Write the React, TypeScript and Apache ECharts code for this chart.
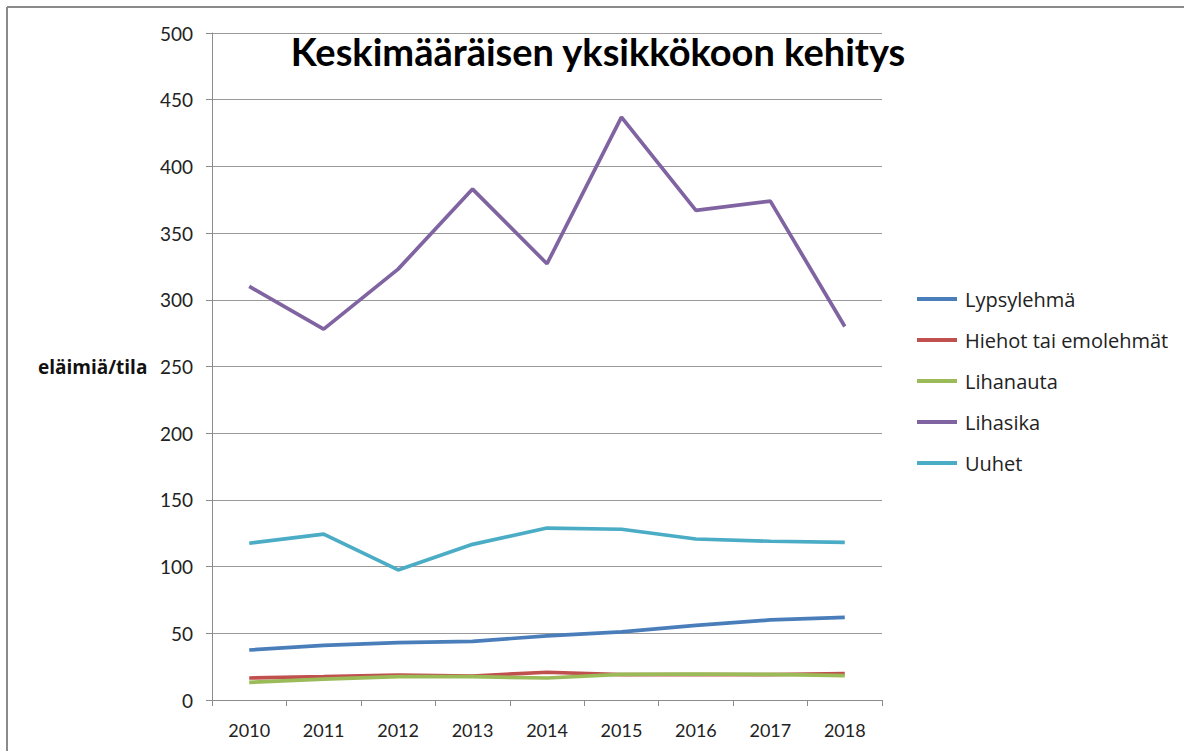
import React, { useEffect, useRef } from "react";
import * as echarts from "echarts";

const years = ["2010", "2011", "2012", "2013", "2014", "2015", "2016", "2017", "2018"];
const lypsylehma = [37.5, 41, 43, 44, 48, 51, 56, 60, 62];
const hiehot = [16.5, 17.5, 18.7, 18, 20.8, 19, 19, 19, 19.7];
const lihanauta = [13.2, 15.7, 17.5, 17.5, 16.5, 19.2, 19.5, 19.2, 18.2];
const lihasika = [310, 278, 323, 383, 327, 437, 367, 374, 280];
const uuhet = [117.5, 124.4, 97.5, 116.7, 128.9, 128, 120.7, 119, 118.2];

const seriesNames = ["Lypsylehmä", "Hiehot tai emolehmät", "Lihanauta", "Lihasika", "Uuhet"];
const seriesData = [lypsylehma, hiehot, lihanauta, lihasika, uuhet];
const colors = ["#4A7EBB", "#C0504D", "#9BBB59", "#8064A2", "#4BACC6"];

const FONT = "Lato, 'Open Sans', sans-serif";
const FONT2 = "'Open Sans', Lato, sans-serif";

export default function App() {
  const ref = useRef<HTMLDivElement>(null);
  useEffect(() => {
    if (!ref.current) return;
    const chart = echarts.init(ref.current, null, { renderer: "svg" });
    chart.setOption({
      animation: false,
      backgroundColor: "#ffffff",
      textStyle: { fontFamily: FONT },
      legend: {
        orient: "vertical",
        left: 917,
        top: 289,
        padding: 0,
        itemWidth: 40,
        itemHeight: 4,
        itemGap: 21,
        icon: "rect",
        textStyle: { fontSize: 20, color: "#222", fontFamily: FONT2, padding: [0, 0, 0, 3] },
        data: seriesNames,
      },
      grid: { left: 212, right: 302, top: 33, bottom: 51, containLabel: false },
      xAxis: {
        type: "category",
        data: years,
        boundaryGap: true,
        axisLine: { show: true, lineStyle: { color: "#8c8c8c", width: 1 } },
        axisTick: { show: true, length: 6, lineStyle: { color: "#8c8c8c" } },
        axisLabel: { fontSize: 18, color: "#222", margin: 21, fontFamily: FONT },
        splitLine: { show: false },
      },
      yAxis: {
        type: "value",
        min: 0,
        max: 500,
        interval: 50,
        axisLine: { show: true, lineStyle: { color: "#8c8c8c", width: 1 } },
        axisTick: { show: true, length: 6, lineStyle: { color: "#8c8c8c" } },
        axisLabel: { fontSize: 19, color: "#222", margin: 19, fontFamily: FONT },
        splitLine: { show: true, lineStyle: { color: "#9a9a9a", width: 1 } },
      },
      series: seriesNames.map((name, i) => ({
        name,
        type: "line",
        data: seriesData[i],
        showSymbol: false,
        symbol: "none",
        lineStyle: { width: 3.7, color: colors[i] },
        itemStyle: { color: colors[i] },
        z: i === 3 ? 3 : 2,
      })),
      graphic: [
        {
          type: "text",
          x: 598,
          y: 51,
          z: 10,
          style: {
            text: "Keskimääräisen yksikkökoon kehitys",
            textAlign: "center",
            textVerticalAlign: "middle",
            fontSize: 38,
            fontWeight: "bold",
            fill: "#000",
            fontFamily: FONT,
          },
        },
        {
          type: "text",
          x: 38,
          y: 367,
          style: {
            text: "eläimiä/tila",
            textAlign: "left",
            textVerticalAlign: "middle",
            fontSize: 19,
            fontWeight: "bold",
            fill: "#111",
            fontFamily: FONT2,
          },
        },
        {
          type: "line",
          shape: { x1: 7, y1: 7, x2: 1184, y2: 7 },
          style: { stroke: "#8a8a8a", lineWidth: 2 },
        },
        {
          type: "line",
          shape: { x1: 7, y1: 7, x2: 7, y2: 751 },
          style: { stroke: "#8a8a8a", lineWidth: 2 },
        },
      ],
    });
    return () => chart.dispose();
  }, []);
  return (
    <div
      ref={ref}
      style={{ position: "fixed", left: 0, top: 0, width: 1184, height: 751, background: "#fff" }}
    />
  );
}
